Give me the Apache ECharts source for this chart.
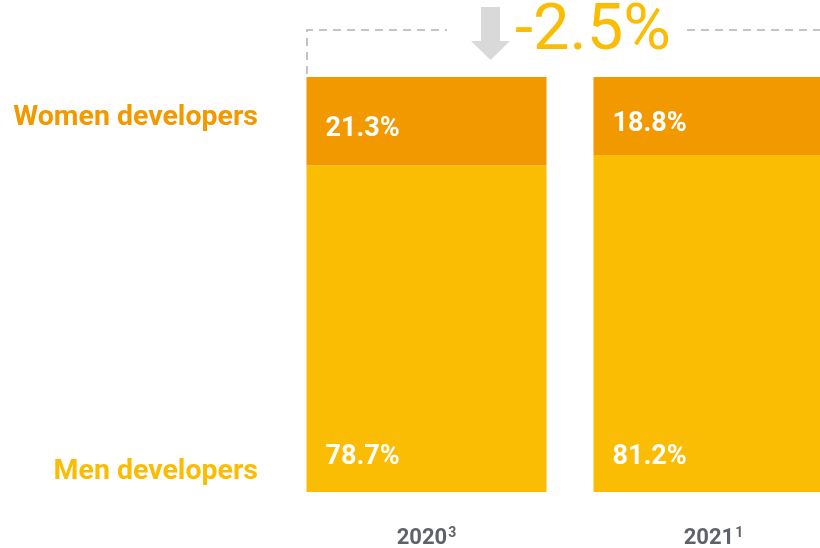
<!DOCTYPE html>
<html>
<head>
<meta charset="utf-8">
<script src="https://cdn.jsdelivr.net/npm/echarts@6/dist/echarts.min.js"></script>
<style>
  html, body { margin: 0; padding: 0; background: #fff; }
  #chart { width: 820px; height: 548px; }
</style>
</head>
<body>
<div id="chart"></div>
<script>
const years = ["2020", "2021"];
const yearNotes = ["3", "1"];
const women = [21.3, 18.8];
const men = [78.7, 81.2];

const ORANGE = "#F29900";
const YELLOW = "#FBBC04";
const GREY = "#5F6368";

var myChart = echarts.init(document.getElementById("chart"));

// change in share of women, shown at the top
const change = (women[1] - women[0]).toFixed(1) + "%";

const option = {
  animation: false,
  textStyle: { fontFamily: "Roboto" },
  grid: { left: 283, width: 574, top: 77, bottom: 56, outerBoundsMode: "none" },
  xAxis: {
    type: "category",
    data: years,
    axisLine: { show: false },
    axisTick: { show: false },
    axisLabel: {
      margin: 35,
      formatter: (v, i) => v + "{sup|" + yearNotes[i] + "}",
      color: GREY,
      fontSize: 22,
      fontWeight: "bold",
      lineHeight: 22,
      rich: {
        sup: { fontSize: 14, fontWeight: "bold", color: GREY, padding: [0, 0, 10, 1] },
      },
    },
  },
  yAxis: { type: "value", min: 0, max: 100, show: false },
  series: [
    {
      name: "Men developers",
      type: "bar",
      stack: "total",
      barWidth: 240,
      data: men,
      itemStyle: { color: YELLOW },
      label: {
        show: true,
        position: "insideBottomLeft",
        distance: 19,
        offset: [0, -2],
        formatter: (p) => p.value + "%",
        color: "#fff",
        fontSize: 27,
        fontWeight: "bold",
      },
    },
    {
      name: "Women developers",
      type: "bar",
      stack: "total",
      barWidth: 240,
      data: women,
      itemStyle: { color: ORANGE },
      label: {
        show: true,
        position: "insideLeft",
        distance: 19,
        offset: [0, 8],
        formatter: (p) => p.value + "%",
        color: "#fff",
        fontSize: 27,
        fontWeight: "bold",
      },
    },
  ],
  graphic: [
    {
      type: "text",
      right: 562,
      top: 103,
      style: { text: "Women developers", fill: ORANGE, font: "bold 28.5px Roboto" },
    },
    {
      type: "text",
      right: 562,
      top: 457,
      style: { text: "Men developers", fill: YELLOW, font: "bold 28.5px Roboto" },
    },
    {
      type: "polyline",
      shape: { points: [[307, 74], [307, 30], [447, 30]] },
      style: { stroke: "#c4c4c4", lineWidth: 2, lineDash: [8, 6], fill: null },
    },
    {
      type: "line",
      shape: { x1: 687, y1: 30, x2: 820, y2: 30 },
      style: { stroke: "#c4c4c4", lineWidth: 2, lineDash: [8, 6] },
    },
    {
      type: "polygon",
      shape: {
        points: [[481, 7], [500, 7], [500, 41], [510, 41], [490.5, 60], [471, 41], [481, 41]],
      },
      style: { fill: "#d9d9d9" },
    },
    {
      type: "text",
      x: 515,
      y: 33,
      style: {
        text: change,
        fill: YELLOW,
        font: "65px Roboto",
        textVerticalAlign: "middle",
      },
    },
  ],
};

option && myChart.setOption(option);
</script>
</body>
</html>
